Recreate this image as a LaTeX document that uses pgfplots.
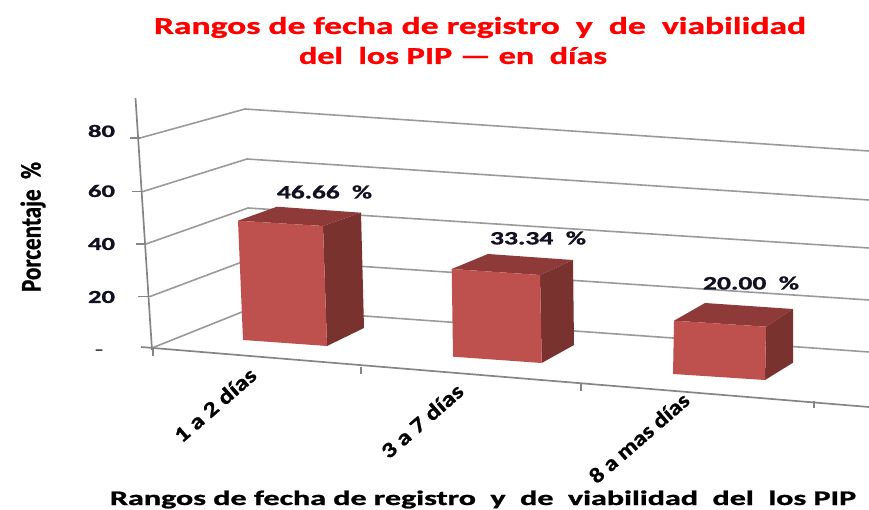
\documentclass[border=0pt]{standalone}
\usepackage{graphicx}
\usepackage{fontspec}
\setmainfont[BoldFeatures={FakeBold=1}]{Carlito}
\usepackage{pgfplots}
\pgfplotsset{compat=1.18}
\definecolor{barfront}{HTML}{BE504D}
\definecolor{barside}{HTML}{7A322F}
\definecolor{bartop}{HTML}{8E3A38}
\definecolor{gridc}{HTML}{9A9A9A}
\definecolor{axisc}{HTML}{858585}
\definecolor{inkc}{HTML}{111122}
\newcommand{\fit}[3]{\resizebox{#1bp}{#2bp}{\bfseries #3}}
\begin{document}
\begin{tikzpicture}[x=1bp,y=1bp]
\path[use as bounding box] (0,0) rectangle (869,510);
\begin{axis}[at={(0,0)},anchor=south west,scale only axis,width=869bp,height=510bp,
  xmin=0,xmax=869,ymin=0,ymax=510,y dir=reverse,axis lines=none,clip=true]
% back and side wall grid lines
\addplot[gridc,line width=1.6pt] coordinates {(140,138)(245,109)(869,151)};
\addplot[gridc,line width=1.6pt] coordinates {(143,191.5)(247,159)(869,200)};
\addplot[gridc,line width=1.6pt] coordinates {(146,244)(248,208)(869,248)};
\addplot[gridc,line width=1.6pt] coordinates {(150,296.5)(250,259)(869,300)};
\addplot[gridc,line width=1.6pt] coordinates {(152,348)(252,308)(869,352)};
% axes
\addplot[axisc,line width=1.7pt] coordinates {(135.5,98)(152,350)};
\addplot[axisc,line width=1.7pt] coordinates {(141,347)(869,407)};
% ticks
\addplot[axisc,line width=1.2pt] coordinates {(130,138)(140,138)};
\addplot[axisc,line width=1.2pt] coordinates {(132,191.5)(143,191.5)};
\addplot[axisc,line width=1.2pt] coordinates {(136,244)(146,244)};
\addplot[axisc,line width=1.2pt] coordinates {(138,296.5)(150,296.5)};
\addplot[axisc,line width=1.2pt] coordinates {(153,348)(153,356)};
\addplot[axisc,line width=1.2pt] coordinates {(361,367)(361,374)};
\addplot[axisc,line width=1.2pt] coordinates {(581,384)(581,391)};
\addplot[axisc,line width=1.2pt] coordinates {(814,401)(814,408)};
% bar 1: 46.66
\addplot[draw=none,fill=bartop] coordinates {(238,220.7)(277,206.7)(361,212.7)(323,226)} --cycle;
\addplot[draw=none,fill=barside] coordinates {(323,226)(361,212.7)(364,328)(327,346)} --cycle;
\addplot[draw=none,fill=barfront] coordinates {(238,220.7)(323,226)(327,346)(243,340)} --cycle;
% bar 2: 33.34
\addplot[draw=none,fill=bartop] coordinates {(451.7,269)(488,254)(573,260)(540,275)} --cycle;
\addplot[draw=none,fill=barside] coordinates {(540,275)(573,260)(574,345)(541.7,363)} --cycle;
\addplot[draw=none,fill=barfront] coordinates {(451.7,269)(540,275)(541.7,363)(453,356.7)} --cycle;
% bar 3: 20.00
\addplot[draw=none,fill=bartop] coordinates {(674,320.7)(705,303)(793,309)(766,326.7)} --cycle;
\addplot[draw=none,fill=barside] coordinates {(766,326.7)(793,309)(793,362.7)(765,380)} --cycle;
\addplot[draw=none,fill=barfront] coordinates {(674,320.7)(766,326.7)(765,380)(673,374)} --cycle;
% titles
\node[red] at (axis cs:480,27.5) {\fit{652}{17}{Rangos de fecha de registro\ \ y\ \ de\ \ viabilidad}};
\node[red] at (axis cs:453,55.5) {\fit{308}{17}{del\ \ los PIP --- en\ \ días}};
\node[black] at (axis cs:483,499.5) {\fit{746}{14.5}{Rangos de fecha de registro\ \ y\ \ de\ \ viabilidad\ \ del\ \ los PIP}};
\node[black,rotate=90] at (axis cs:33,227) {\fit{130}{20}{Porcentaje\ \ \%}};
% value labels
\node[inkc] at (axis cs:324.5,192) {\fit{95}{13}{46.66\ \ \%}};
\node[inkc] at (axis cs:538,238) {\fit{96}{13}{33.34\ \ \%}};
\node[inkc] at (axis cs:751,283) {\fit{96}{13}{20.00\ \ \%}};
% y tick labels
\node[inkc] at (axis cs:101.5,131) {\fit{27}{12}{80}};
\node[inkc] at (axis cs:101.5,191) {\fit{27}{12}{60}};
\node[inkc] at (axis cs:101.5,244) {\fit{27}{12}{40}};
\node[inkc] at (axis cs:101.5,297) {\fit{27}{12}{20}};
\node[inkc] at (axis cs:99,351) {\fit{8}{2.5}{-}};
% category labels
\node[black,rotate=41] at (axis cs:215,405) {\fit{101}{15}{1 a 2 días}};
\node[black,rotate=41] at (axis cs:422,421) {\fit{101}{15}{3 a 7 días}};
\node[black,rotate=41] at (axis cs:639,438) {\fit{125}{15}{8 a mas días}};
\end{axis}
\end{tikzpicture}
\end{document}
